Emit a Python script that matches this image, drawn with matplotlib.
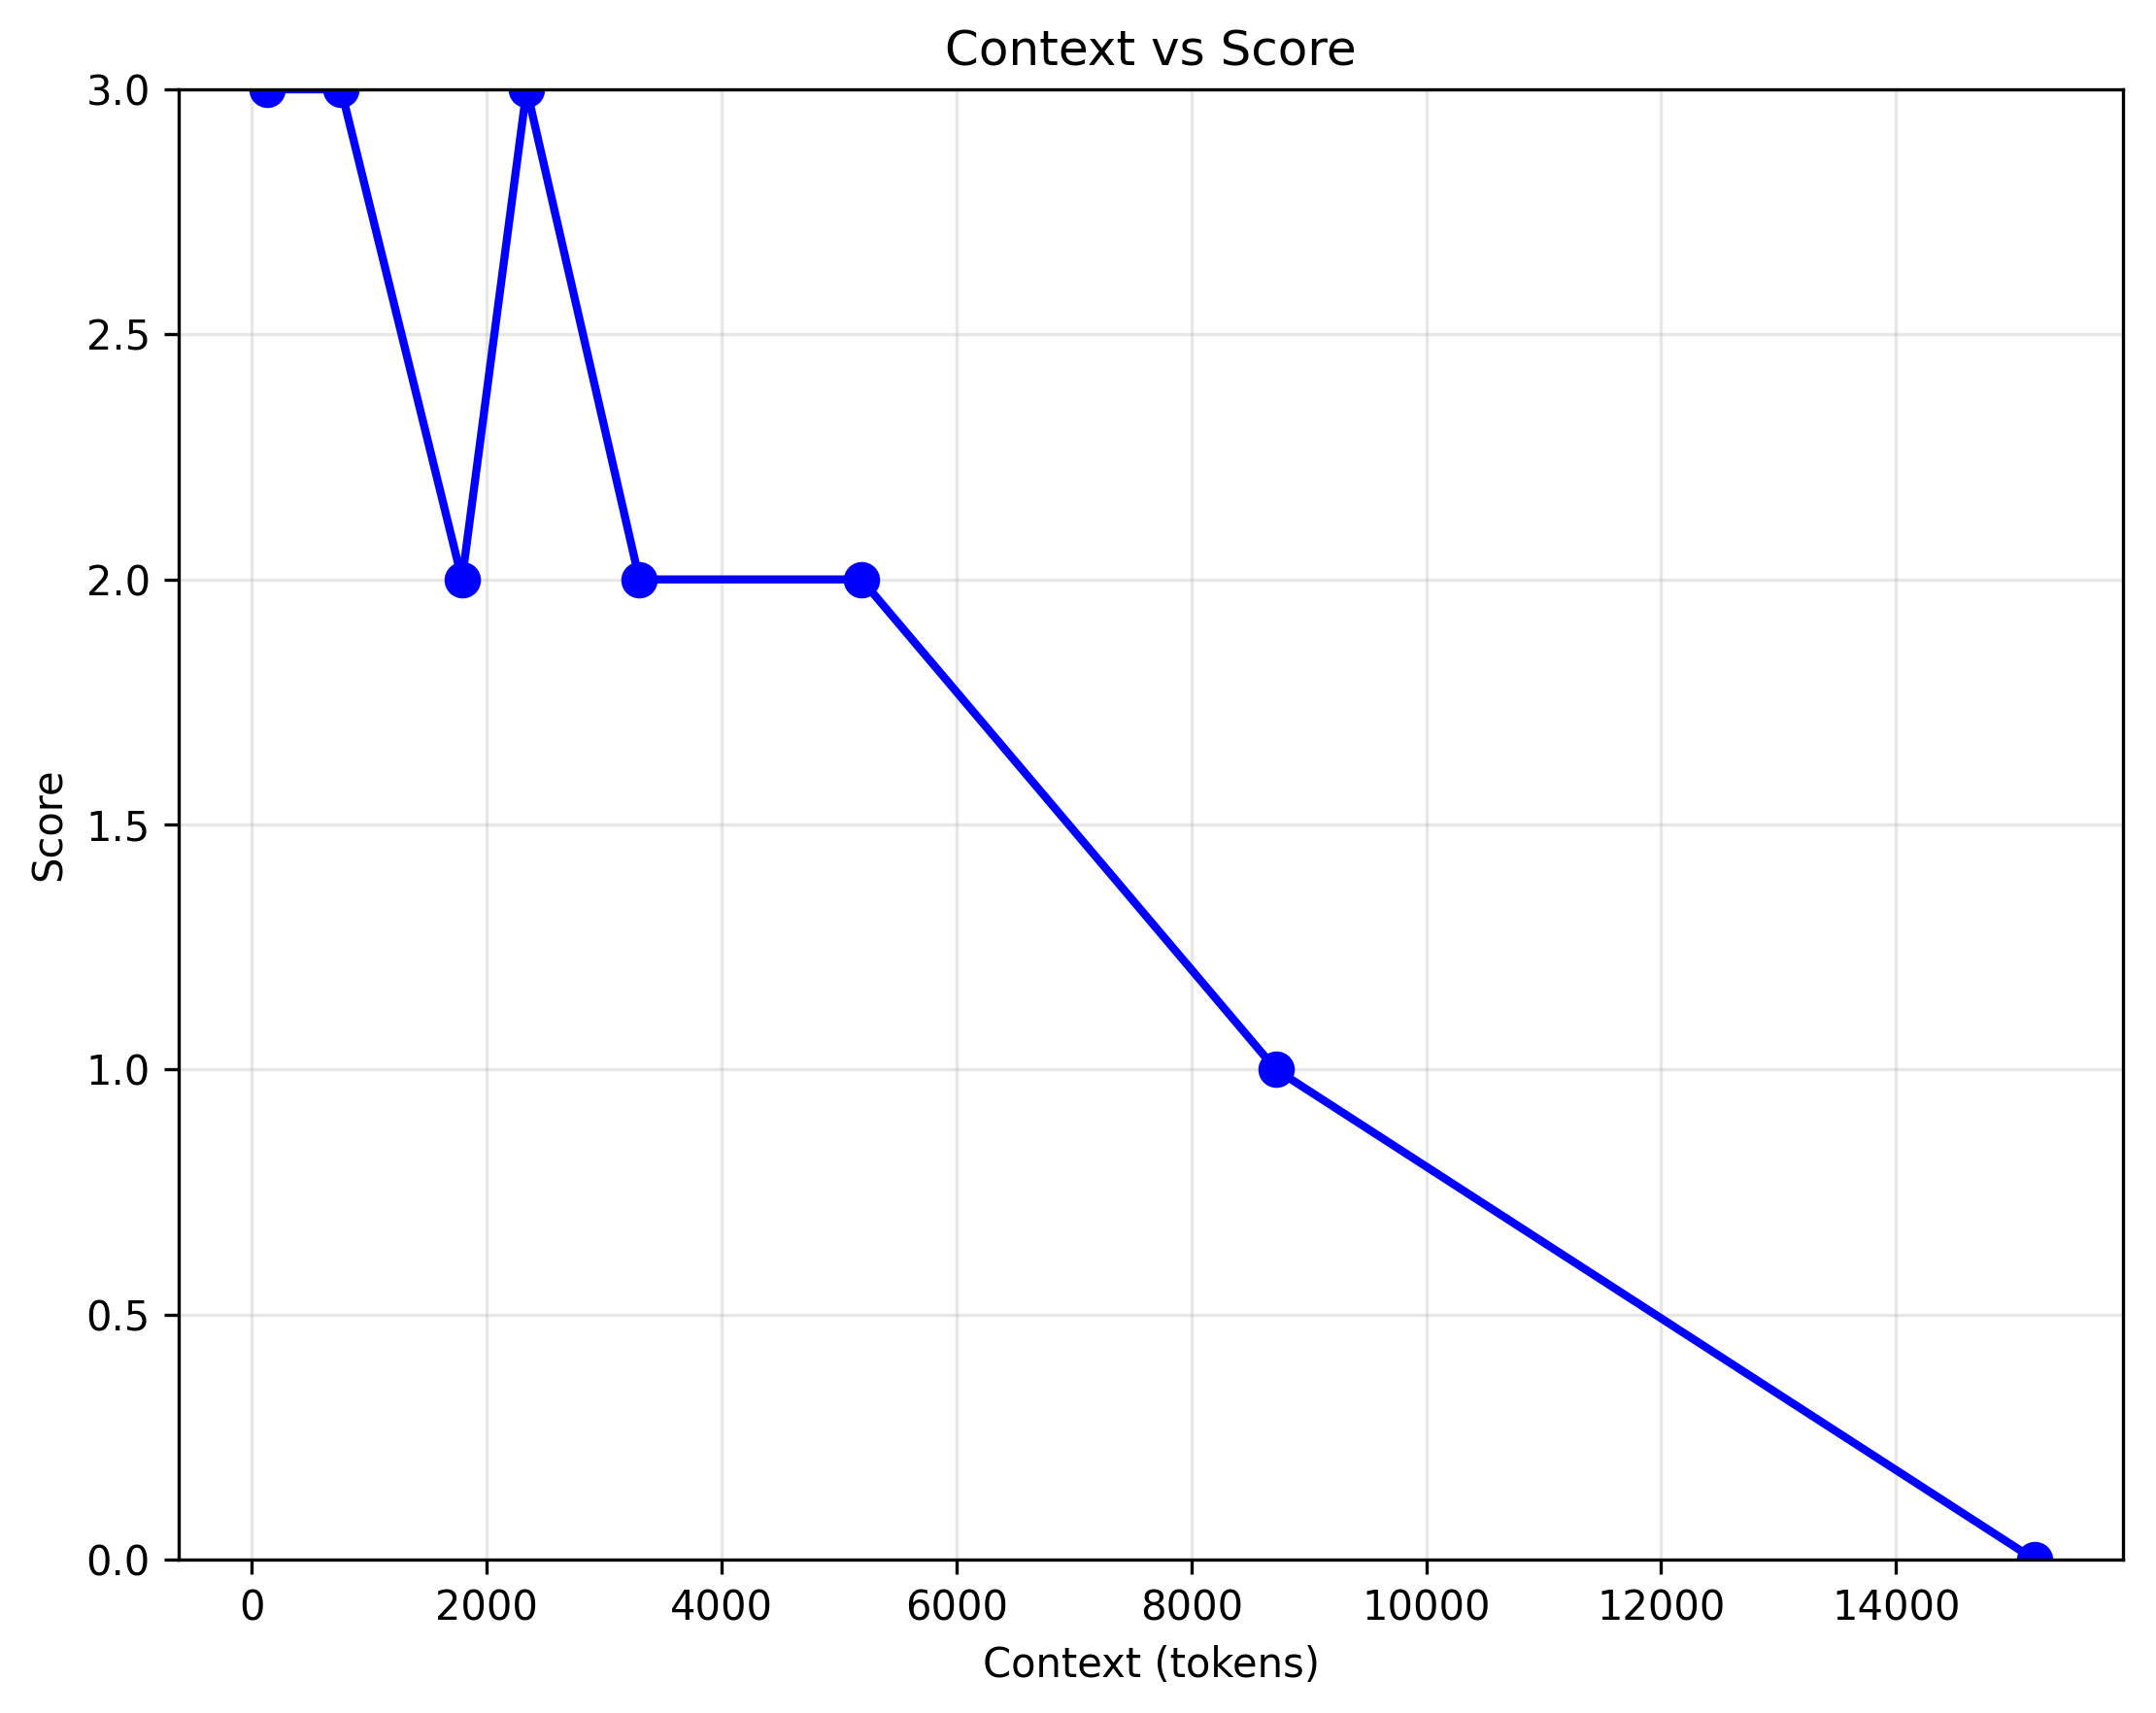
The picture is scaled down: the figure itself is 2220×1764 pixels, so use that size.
import matplotlib
matplotlib.use("Agg")
import matplotlib.pyplot as plt

# values
context_tokens = [130, 760, 1790, 2340, 3300, 5190, 8720, 15180]
scores = [3, 3, 2, 3, 2, 2, 1, 0]

fig = plt.figure(figsize=(7.4, 5.88), dpi=300)
ax = fig.add_axes([184 / 2220, 1 - 1606 / 1764, (2186 - 184) / 2220, (1606 - 92) / 1764])

ax.plot(context_tokens, scores, color='blue', marker='o', linewidth=2, markersize=8)
ax.set_xlabel('Context (tokens)')
ax.set_ylabel('Score')
ax.set_title('Context vs Score')
ax.set_ylim(0, 3)
ax.grid(True, alpha=0.3)

fig.savefig('out.png', dpi=300)
